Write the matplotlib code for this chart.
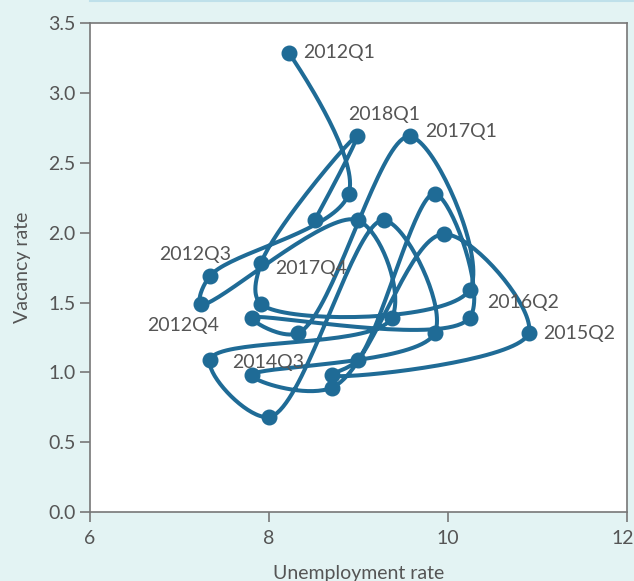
import matplotlib.pyplot as plt
import numpy as np
from matplotlib.transforms import ScaledTranslation

# quarterly points, in the order they are joined
quarters = ['2012Q1', '2012Q2', '2012Q3', '2012Q4',
            '2013Q1', '2013Q2', '2013Q3', '2013Q4',
            '2014Q1', '2014Q2', '2014Q3', '2014Q4',
            '2015Q1', '2015Q2', '2015Q3', '2015Q4',
            '2016Q1', '2016Q2', '2016Q3', '2016Q4',
            '2017Q1', '2017Q2', '2017Q3', '2017Q4',
            '2018Q1', '2018Q2']
unemployment = [8.22, 8.89, 7.34, 7.24,
                8.99, 9.37, 7.34, 8.00,
                9.28, 9.85, 7.81, 8.70,
                9.95, 10.90, 8.70, 8.99,
                9.85, 10.24, 7.81, 8.32,
                9.57, 10.24, 7.91, 7.91,
                8.98, 8.51]
vacancy = [3.29, 2.28, 1.69, 1.49,
           2.09, 1.39, 1.09, 0.68,
           2.09, 1.28, 0.98, 0.89,
           1.99, 1.28, 0.98, 1.09,
           2.28, 1.39, 1.39, 1.28,
           2.69, 1.59, 1.49, 1.78,
           2.69, 2.09]

# which points get a label, and where the text sits (pixels from the point)
label_pos = {
    '2012Q1': (14, 0, 'left'),
    '2018Q1': (-9, 22, 'left'),
    '2017Q1': (16, 5, 'left'),
    '2012Q3': (21, 22, 'right'),
    '2017Q4': (14, -5, 'left'),
    '2012Q4': (18, -22, 'right'),
    '2016Q2': (18, 15, 'left'),
    '2015Q2': (15, 0, 'left'),
    '2014Q3': (-20, 13, 'left'),
}

blue = '#1f6b96'
grey = '#555555'
bg = '#e3f3f3'

plt.rcParams['font.family'] = ['Lato', 'DejaVu Sans']


def catmull_rom(pts, alpha=0.5, n=40):
    """Centripetal Catmull-Rom through pts (screen coords), as cubic Beziers."""
    t = np.linspace(0, 1, n)[:, None]
    segs = []
    for i in range(len(pts) - 1):
        p1, p2 = pts[i], pts[i + 1]
        l12 = np.hypot(*(p2 - p1))
        l12a, l122a = l12 ** alpha, l12 ** (2 * alpha)
        c1, c2 = p1.copy(), p2.copy()
        if i > 0:
            p0 = pts[i - 1]
            l01 = np.hypot(*(p1 - p0))
            l01a, l012a = l01 ** alpha, l01 ** (2 * alpha)
            a = 2 * l012a + 3 * l01a * l12a + l122a
            m = 3 * l01a * (l01a + l12a)
            c1 = (p1 * a - p0 * l122a + p2 * l012a) / m
        if i + 2 < len(pts):
            p3 = pts[i + 2]
            l23 = np.hypot(*(p3 - p2))
            l23a, l232a = l23 ** alpha, l23 ** (2 * alpha)
            b = 2 * l232a + 3 * l23a * l12a + l122a
            m = 3 * l23a * (l23a + l12a)
            c2 = (p2 * b + p1 * l232a - p3 * l122a) / m
        segs.append((1 - t) ** 3 * p1 + 3 * (1 - t) ** 2 * t * c1
                    + 3 * (1 - t) * t ** 2 * c2 + t ** 3 * p2)
    return np.vstack(segs)


fig = plt.figure(figsize=(6.34, 5.81), dpi=100, facecolor=bg)
ax = fig.add_axes([0.142, 0.1188, 0.847, 0.841])
ax.set_facecolor('white')
ax.set_xlim(6, 12)
ax.set_ylim(0, 3.5)

# smooth the path in screen space, then map it back to data
screen = ax.transData.transform(np.column_stack([unemployment, vacancy]))
curve = ax.transData.inverted().transform(catmull_rom(screen))
ax.plot(curve[:, 0], curve[:, 1], color=blue, lw=2.9,
        solid_capstyle='round', solid_joinstyle='round', zorder=2)
ax.plot(unemployment, vacancy, 'o', color=blue, ms=10.5, zorder=3)

for q, u, v in zip(quarters, unemployment, vacancy):
    if q in label_pos:
        dx, dy, ha = label_pos[q]
        ax.annotate(q, (u, v), xytext=(dx, dy), textcoords='offset pixels',
                    ha=ha, va='center', fontsize=14, color=grey, zorder=4)

ax.set_xticks([6, 8, 10, 12])
ax.set_yticks(np.arange(0, 3.51, 0.5))
ax.set_yticklabels(['{:.1f}'.format(v) for v in np.arange(0, 3.51, 0.5)])
for s in ax.spines.values():
    s.set_color('#777777')
    s.set_linewidth(1.2)
ax.tick_params(colors='#777777', labelcolor=grey, labelsize=14, length=7, width=1.2)
ax.tick_params(axis='x', pad=6)
# keep the last x tick label inside the picture
last = ax.get_xticklabels()[-1]
last.set_transform(last.get_transform() + ScaledTranslation(-4 / 100, 0, fig.dpi_scale_trans))

ax.set_xlabel('Unemployment rate', fontsize=14, color=grey, labelpad=13)
ax.set_ylabel('Vacancy rate', fontsize=14, color=grey, labelpad=12)

# thin rule along the top of the panel
fig.add_artist(plt.Line2D([0.142, 1.0], [0.998, 0.998], transform=fig.transFigure,
                          color='#bfe0ea', lw=1.5))

fig.savefig('out.png', dpi=100, facecolor=bg)
